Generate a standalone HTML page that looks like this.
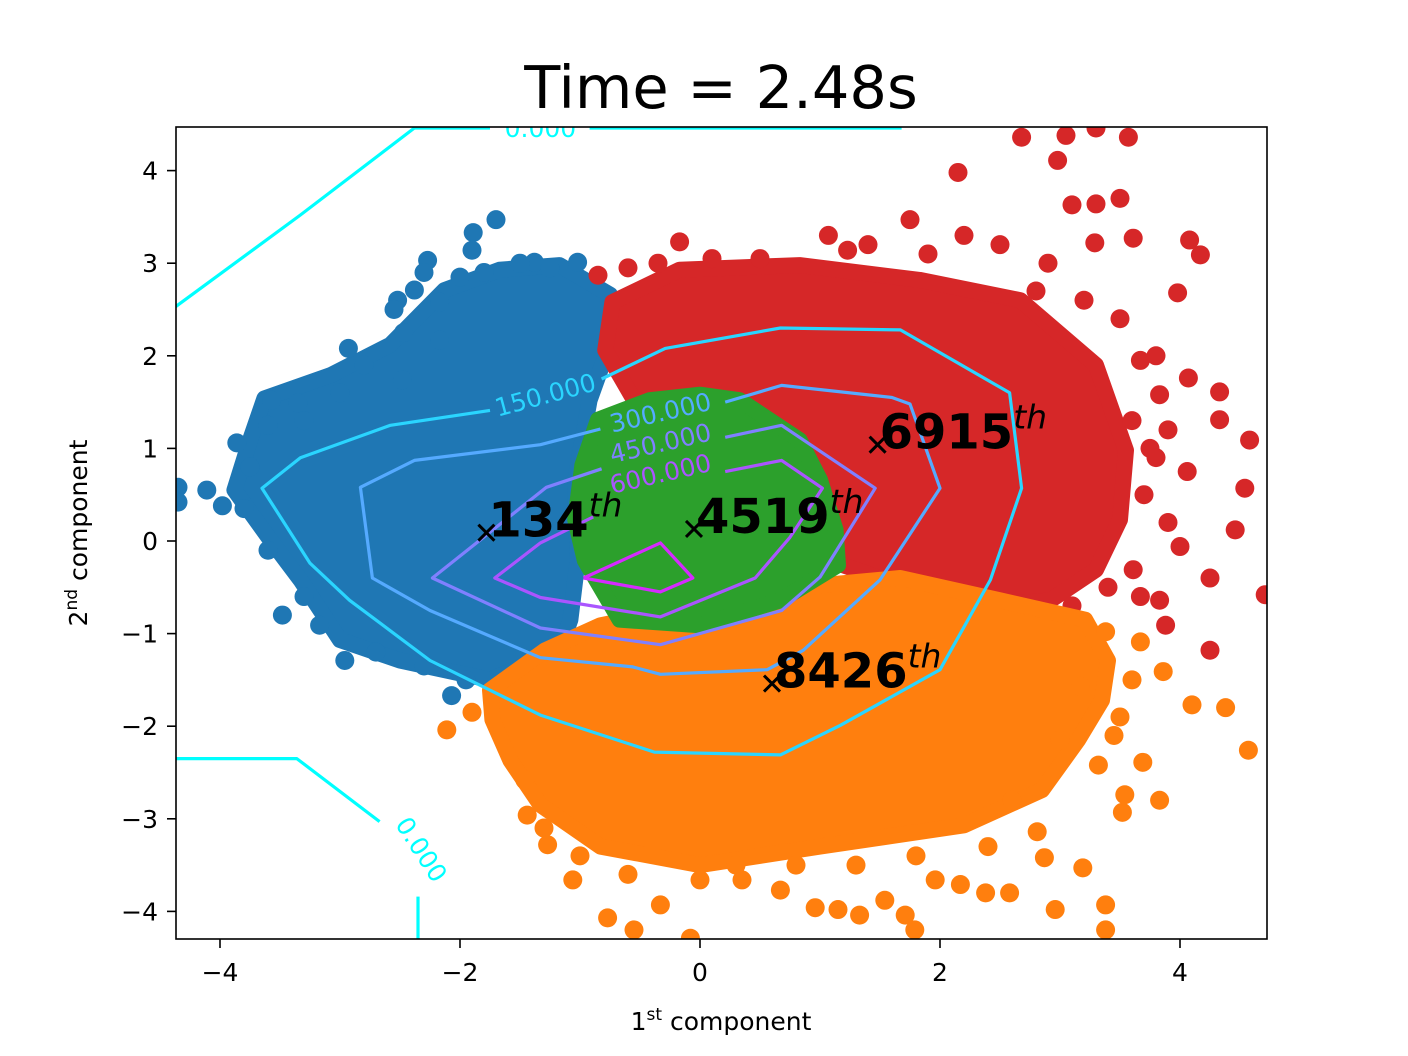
<!DOCTYPE html>
<html><head><meta charset="utf-8"><style>
html,body{margin:0;padding:0;background:#fff;}
svg{display:block;font-family:"DejaVu Sans","Liberation Sans",sans-serif;}
</style></head><body>
<svg id="chart" width="1408" height="1056" viewBox="0 0 1408 1056" xmlns="http://www.w3.org/2000/svg">
<defs><clipPath id="plotclip"><rect x="176" y="127" width="1091" height="812"/></clipPath></defs>
<rect x="0" y="0" width="1408" height="1056" fill="#fff"/>
<text x="721" y="108" font-size="59" text-anchor="middle" fill="#000">Time = 2.48s</text>
<g id="plot" clip-path="url(#plotclip)"></g>
<rect x="176" y="127" width="1091" height="812" fill="none" stroke="#000" stroke-width="1.6"/>
<g id="xticks"></g>
<g id="yticks"></g>
<text x="721" y="1030" font-size="25" text-anchor="middle">1<tspan dy="-10" font-size="17">st</tspan><tspan dy="10"> component</tspan></text>
<text transform="translate(87,533) rotate(-90)" font-size="25" text-anchor="middle">2<tspan dy="-10" font-size="17">nd</tspan><tspan dy="10"> component</tspan></text>
</svg>
<script>
// ---- data ----
const xTicks = [-4, -2, 0, 2, 4];
const yTicks = [-4, -3, -2, -1, 0, 1, 2, 3, 4];
const clusterNames = ["blue", "red", "orange", "green"];
const clusterColors = ["#1f77b4", "#d62728", "#ff7f0e", "#2ca02c"];
const blueHull = [[-3.63,1.54],[-3.08,1.79],[-2.58,2.12],[-2.13,2.71],[-1.67,2.93],[-1.17,2.98],[-0.75,2.66],[-0.71,2.28],[-0.92,1.52],[-1.04,0.66],[-1.02,-0.21],[-1.08,-0.85],[-1.17,-1.18],[-1.75,-1.5],[-2.5,-1.29],[-3.0,-1.07],[-3.33,-0.42],[-3.58,0.01],[-3.88,0.55],[-3.75,1.09]];
const blueOut = [[-1.70,3.47],[-1.89,3.33],[-1.90,3.14],[-2.27,3.03],[-2.38,2.71],[-2.52,2.60],[-2.93,2.08],[-3.57,1.52],[-3.35,1.49],[-3.86,1.06],[-3.98,0.38],[-4.35,0.58],[-4.35,0.42],[-4.11,0.55],[-3.48,-0.80],[-3.17,-0.91],[-2.96,-1.29],[-2.07,-1.67],[-1.02,3.01],[-1.38,3.01],[-2.17,2.58],[-2.47,2.25],[-2.48,1.74],[-2.17,2.17],[-2.55,2.5],[-2.3,2.9],[-2.0,2.85],[-1.8,2.9],[-1.5,3.0],[-1.25,2.95],[-3.3,1.3],[-3.6,1.25],[-3.75,0.8],[-3.8,0.35],[-3.6,-0.1],[-3.3,-0.6],[-2.7,-1.2],[-2.3,-1.35],[-1.95,-1.5],[-3.0,1.6],[-2.8,1.9]];
const redHull = [[-0.73,2.58],[-0.17,2.93],[0.83,2.98],[1.83,2.82],[2.67,2.60],[3.3,1.9],[3.55,0.98],[3.5,0.23],[3.3,-0.31],[2.92,-0.64],[2.5,-0.69],[1.67,-0.48],[1.08,-0.21],[0.83,0.87],[0.33,1.31],[-0.5,1.41],[-0.79,2.06]];
const redOut = [[2.68,4.36],[3.05,4.38],[3.30,4.46],[3.57,4.36],[2.98,4.11],[2.15,3.98],[3.10,3.63],[3.30,3.64],[3.50,3.70],[3.29,3.22],[3.61,3.27],[4.08,3.25],[4.17,3.09],[3.98,2.68],[4.33,1.61],[4.58,1.09],[4.54,0.57],[4.46,0.12],[4.25,-0.40],[3.83,-0.64],[3.88,-0.91],[4.25,-1.18],[4.71,-0.58],[4.07,1.76],[1.75,3.47],[1.23,3.14],[1.07,3.30],[-0.17,3.23],[-0.85,2.87],[-0.6,2.95],[3.75,1.0],[4.0,-0.06],[3.61,-0.31],[3.67,-0.60],[4.06,0.75],[4.33,1.31],[3.83,1.58],[3.67,1.95],[2.2,3.3],[2.5,3.2],[2.9,3.0],[3.2,2.6],[3.5,2.4],[3.8,2.0],[3.9,1.2],[3.7,0.5],[3.9,0.2],[3.4,-0.5],[3.1,-0.7],[2.7,-0.72],[1.9,3.1],[0.5,3.05],[0.1,3.05],[-0.35,3.0],[1.4,3.2],[2.8,2.7],[3.6,1.3],[3.8,0.9]];
const orangeHull = [[-1.75,-1.61],[-1.29,-1.18],[-0.83,-0.91],[0,-0.69],[1.0,-0.48],[1.67,-0.40],[2.5,-0.64],[3.21,-0.85],[3.4,-1.29],[3.35,-1.72],[3.15,-2.15],[2.85,-2.69],[2.2,-3.07],[1.0,-3.3],[0,-3.5],[-0.83,-3.3],[-1.33,-2.85],[-1.58,-2.37],[-1.73,-1.93]];
const orangeOut = [[-2.11,-2.04],[-1.46,-2.58],[-1.44,-2.96],[-1.27,-3.28],[-1.06,-3.66],[-0.77,-4.07],[-0.55,-4.20],[-0.33,-3.93],[-0.08,-4.29],[0,-3.66],[0.35,-3.66],[0.67,-3.77],[0.96,-3.96],[1.15,-3.98],[1.33,-4.04],[1.54,-3.88],[1.71,-4.04],[1.79,-4.20],[1.96,-3.66],[2.17,-3.71],[2.38,-3.80],[2.58,-3.80],[2.96,-3.98],[3.19,-3.53],[3.38,-3.93],[3.38,-4.20],[3.52,-2.93],[3.54,-2.74],[3.32,-2.42],[3.69,-2.39],[3.83,-2.80],[4.1,-1.77],[4.38,-1.80],[4.57,-2.26],[3.86,-1.41],[3.67,-1.09],[3.38,-0.98],[2.87,-3.42],[2.81,-3.14],[2.6,-2.80],[3.17,-1.57],[3.0,-2.15],[-1.9,-1.85],[-1.3,-3.1],[-1.0,-3.4],[-0.6,-3.6],[0.3,-3.5],[0.8,-3.5],[1.3,-3.5],[1.8,-3.4],[2.4,-3.3],[3.5,-1.9],[3.6,-1.5],[3.45,-2.1]];
const greenHull = [[-0.85,1.31],[-0.42,1.52],[0,1.58],[0.33,1.52],[0.83,1.09],[1.0,0.66],[1.13,0.12],[1.15,-0.26],[0.67,-0.64],[0,-0.91],[-0.67,-0.85],[-0.96,-0.21],[-1.04,0.23],[-0.98,0.82]];
const greenOut = [];
const contourLevels = [0, 150, 300, 450, 600, 750];
const contourColors = ["#00ffff", "#2ad5ff", "#55aaff", "#8080ff", "#aa55ff", "#d52aff"];
const c0a = [[-4.37,2.53],[-3.33,3.52],[-2.38,4.46],[-1.75,4.46]];
const c0b = [[-0.92,4.46],[1.68,4.46]];
const c0c = [[-4.37,-2.35],[-3.36,-2.35],[-2.67,-3.03]];
const c0d = [[-2.35,-3.84],[-2.35,-4.30]];
const c150 = [[-1.75,1.41],[-2.58,1.25],[-3.33,0.90],[-3.65,0.57],[-3.25,-0.24],[-2.92,-0.64],[-2.25,-1.29],[-1.33,-1.88],[-0.38,-2.28],[0.67,-2.31],[1.17,-1.99],[2.0,-1.39],[2.42,-0.42],[2.68,0.57],[2.58,1.60],[1.67,2.28],[0.67,2.30],[-0.29,2.08],[-0.82,1.75]];
const c300 = [[-0.83,1.21],[-1.33,1.04],[-2.38,0.87],[-2.83,0.58],[-2.73,-0.40],[-2.25,-0.75],[-1.33,-1.26],[-0.56,-1.36],[-0.33,-1.44],[0.56,-1.39],[0.86,-1.18],[1.5,-0.42],[2.0,0.57],[1.75,1.48],[1.6,1.55],[0.68,1.68],[0.21,1.50]];
const c450 = [[-0.82,0.78],[-1.28,0.58],[-2.23,-0.40],[-1.33,-0.94],[-0.33,-1.12],[0.68,-0.75],[1.0,-0.39],[1.46,0.57],[0.68,1.25],[0.21,1.12]];
const c600 = [[-0.89,0.26],[-1.33,-0.02],[-1.71,-0.40],[-1.33,-0.61],[-0.33,-0.82],[0.46,-0.40],[0.75,0.04],[1.02,0.57],[0.68,0.87],[0.21,0.75]];
const c750 = [[-0.97,-0.40],[-0.33,-0.02],[-0.06,-0.40],[-0.33,-0.55],[-0.97,-0.40]];
const contourLabels = ["0.000", "150.000", "300.000", "450.000", "600.000", "0.000"];
const labelPos = [[-1.33,4.46],[-1.29,1.58],[-0.33,1.39],[-0.33,1.06],[-0.33,0.73],[-2.32,-3.33]];
const labelRot = [0, -15, -13, -13, -13, 57];
const labelLevelIdx = [0, 1, 2, 3, 4, 0];
const centerNames = ["134", "4519", "6915", "8426"];
const centerX = [-1.78, -0.05, 1.48, 0.6];
const centerY = [0.09, 0.13, 1.04, -1.54];

// ---- axes ----
const X0 = 700, XS = 120, Y0 = 541, YS = 92.6;
const sx = v => X0 + v * XS;
const sy = v => Y0 - v * YS;
const NS = "http://www.w3.org/2000/svg";
function mk(tag, attrs, parent) {
  const e = document.createElementNS(NS, tag);
  for (const k in attrs) e.setAttribute(k, attrs[k]);
  parent.appendChild(e);
  return e;
}
const plot = document.getElementById("plot");
const pts = arr => arr.map(p => sx(p[0]).toFixed(1) + "," + sy(p[1]).toFixed(1)).join(" ");

const hulls = [blueHull, redHull, orangeHull, greenHull];
const outs = [blueOut, redOut, orangeOut, greenOut];
hulls.forEach((h, i) => {
  const g = mk("g", {}, plot);
  
  
  const poly = mk("polygon", {points: pts(h), fill: clusterColors[i], stroke: clusterColors[i], "stroke-width": 16, "stroke-linejoin": "round"}, g);
  
  
  outs[i].forEach(p => {
    const c = mk("circle", {cx: sx(p[0]), cy: sy(p[1]), r: 9.5, fill: clusterColors[i]}, g);
    
    
  });
});

const lines = [[c0a,0],[c0b,0],[c0c,0],[c0d,0],[c150,1],[c300,2],[c450,3],[c600,4],[c750,5]];
lines.forEach(l => {
  const pl = mk("polyline", {points: pts(l[0]), fill: "none", stroke: contourColors[l[1]], "stroke-width": 3.2, "stroke-linejoin": "round"}, plot);
  
  
});
contourLabels.forEach((t, i) => {
  const x = sx(labelPos[i][0]), y = sy(labelPos[i][1]);
  const tx = mk("text", {x: x, y: y + 9, "font-size": 25, "text-anchor": "middle", fill: contourColors[labelLevelIdx[i]], transform: `rotate(${labelRot[i]} ${x} ${y})`}, plot);
  tx.textContent = t;
  
  
});
centerNames.forEach((n, i) => {
  const x = sx(centerX[i]), y = sy(centerY[i]);
  const g = mk("g", {}, plot);
  
  
  mk("path", {d: `M${x-8},${y-8}L${x+8},${y+8}M${x-8},${y+8}L${x+8},${y-8}`, stroke: "#000", "stroke-width": 3}, g);
  const tx = mk("text", {x: x + 2, y: y + 4, "font-size": 48, "font-weight": "bold", fill: "#000"}, g);
  tx.innerHTML = n + '<tspan dy="-20" font-size="33" font-weight="normal" font-style="italic">th</tspan>';
  
  
});

// ticks
const xg = document.getElementById("xticks"), yg = document.getElementById("yticks");
xTicks.forEach(v => {
  const x = sx(v);
  const l = mk("line", {x1: x, x2: x, y1: 939, y2: 948, stroke: "#000", "stroke-width": 1.6}, xg);
  
  
  const t = mk("text", {x: x, y: 981, "font-size": 25, "text-anchor": "middle"}, xg);
  t.textContent = v < 0 ? "\u2212" + Math.abs(v) : String(v);
  
  
});
yTicks.forEach(v => {
  const y = sy(v);
  const l = mk("line", {x1: 167, x2: 176, y1: y, y2: y, stroke: "#000", "stroke-width": 1.6}, yg);
  
  
  const t = mk("text", {x: 158, y: y + 9, "font-size": 25, "text-anchor": "end"}, yg);
  t.textContent = v < 0 ? "\u2212" + Math.abs(v) : String(v);
  
  
});
</script>
</body></html>
